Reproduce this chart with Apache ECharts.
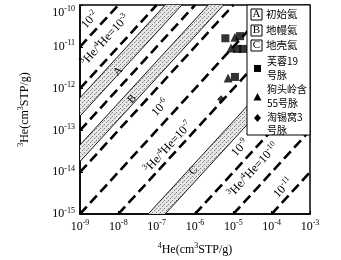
<!DOCTYPE html>
<html><head><meta charset="utf-8">
<script src="https://cdn.jsdelivr.net/npm/echarts@6/dist/echarts.min.js"></script>
<style>html,body{margin:0;padding:0;background:#fff}#c{width:341px;height:260px}</style>
</head><body><div id="c"></div>
<script>
// ---- data ----
const xAxisMin = 1e-9, xAxisMax = 1e-3;
const yAxisMin = 1e-15, yAxisMax = 1e-10;
const ratioLines = [1e-2, 1e-3, 1e-4, 1e-5, 1e-6, 1e-7, 1e-8, 1e-9, 1e-10, 1e-11];
const bandNames = ['A', 'B', 'C'];
const bandUpper = [6.0e-4, 4.5e-5, 1.66e-8];
const bandLower = [2.2e-4, 1.8e-5, 6.0e-9];
const bandLabelPos = [[9.8e-9, 2.6e-12], [2.3e-8, 5.6e-13], [9.0e-7, 1.1e-14]];
const lineLabelText = ['10{s|-2}', '{s|3}He/{s|4}He=10{s|-3}', '10{s|-6}', '{s|3}He/{s|4}He=10{s|-7}', '10{s|-9}', '{s|3}He/{s|4}He=10{s|-10}', '10{s|-11}'];
const lineLabelPos = [[1.82e-9, 4.4e-11], [4.5e-9, 1.45e-11], [1.23e-7, 3.5e-13], [2.0e-7, 4.0e-14], [1.5e-5, 3.8e-14], [3.3e-5, 1.12e-14], [2.0e-4, 4.2e-15]];
const furong19 = [[6.2e-6, 1.6e-11], [1.5e-5, 1.8e-11], [1.26e-5, 8.9e-12], [1.8e-5, 8.9e-12], [1.1e-5, 1.9e-12]];
const goutouling55 = [[1.1e-5, 1.7e-11], [8.7e-6, 9.3e-12], [7.3e-6, 1.8e-12]];
const taoxiwo3 = [[4.8e-6, 5.6e-13]];
const legendBandText = ['初始氦', '地幔氦', '地壳氦'];
const seriesNames = ['芙蓉19号脉', '狗头岭含55号脉', '淘锡窝3号脉'];

// ---- styling helpers ----
const serif = '"Liberation Serif", "Times New Roman", serif';
const cjk = '"Noto Sans CJK SC", sans-serif';
const supRich = { s: { fontSize: 8, verticalAlign: 'top', fontFamily: serif, color: '#000' } };

const pc = document.createElement('canvas');
pc.width = 4; pc.height = 4;
(function () {
  const g = pc.getContext('2d');
  g.fillStyle = '#e6e6e6'; g.fillRect(0, 0, 4, 4);
  g.fillStyle = '#808080'; g.fillRect(0, 0, 1, 1); g.fillRect(2, 2, 1, 1);
  g.fillStyle = '#b4b4b4'; g.fillRect(3, 1, 1, 1);
})();
const bandFill = { image: pc, repeat: 'repeat' };

function lineAngle(api) {
  const p1 = api.coord([1e-6, 1e-12]);
  const p2 = api.coord([1e-5, 1e-11]);
  return Math.atan2(p1[1] - p2[1], p2[0] - p1[0]);
}

const chart = echarts.init(document.getElementById('c'), null, { renderer: 'canvas' });

const series = [];
ratioLines.forEach(function (R) {
  const x1 = Math.max(xAxisMin, yAxisMin / R), x2 = Math.min(xAxisMax, yAxisMax / R);
  series.push({
    type: 'line', silent: true, showSymbol: false, clip: true, z: 2,
    data: [[x1, R * x1], [x2, R * x2]],
    lineStyle: { color: '#000', width: 2.6, type: [10, 5] }
  });
});
series.push({
  type: 'custom', silent: true, z: 3, clip: true,
  data: bandLabelPos,
  renderItem: function (params, api) {
    const i = params.dataIndex;
    const lo = bandLower[i], hi = bandUpper[i];
    const xa = 1e-12, xb = 1;
    const pts = [api.coord([xa, hi * xa]), api.coord([xb, hi * xb]), api.coord([xb, lo * xb]), api.coord([xa, lo * xa])];
    const c = api.coord([api.value(0), api.value(1)]);
    const cs = params.coordSys;
    return {
      type: 'group',
      clipPath: { type: 'rect', shape: { x: cs.x, y: cs.y, width: cs.width, height: cs.height } },
      children: [
        { type: 'polygon', shape: { points: pts }, style: { fill: bandFill, stroke: '#000', lineWidth: 0.9 } },
        { type: 'text', x: c[0], y: c[1], rotation: lineAngle(api),
          style: { text: bandNames[i], fontFamily: serif, fontSize: 11, fill: '#000', align: 'center', verticalAlign: 'middle' } }
      ]
    };
  }
});
series.push({
  type: 'custom', silent: true, z: 4,
  data: lineLabelPos,
  renderItem: function (params, api) {
    const i = params.dataIndex;
    const c = api.coord([api.value(0), api.value(1)]);
    return {
      type: 'text', x: c[0], y: c[1], rotation: lineAngle(api),
      style: { text: lineLabelText[i], rich: supRich, fontFamily: serif, fontSize: 12, lineHeight: 15,
        fill: '#000', align: 'center', verticalAlign: 'middle' }
    };
  }
});
series.push({ type: 'scatter', name: seriesNames[0], data: furong19, symbol: 'rect', symbolSize: 8, itemStyle: { color: '#000' }, z: 5 });
series.push({ type: 'scatter', name: seriesNames[1], data: goutouling55, symbol: 'triangle', symbolSize: 9, itemStyle: { color: '#000' }, z: 5 });
series.push({ type: 'scatter', name: seriesNames[2], data: taoxiwo3, symbol: 'diamond', symbolSize: 8, itemStyle: { color: '#000' }, z: 5 });

function expLabel(v) {
  const e = Math.round(Math.log10(v));
  return '10{s|' + e + '}';
}

const legendX = 247, legendY = 5, legendW = 63, legendH = 130;
const graphics = [
  { type: 'rect', shape: { x: legendX, y: legendY, width: legendW, height: legendH }, style: { fill: '#fff', stroke: '#000', lineWidth: 1 }, z: 100 }
];
const bandRowY = [14.5, 30.5, 45.5];
bandNames.forEach(function (n, i) {
  graphics.push({ type: 'rect', shape: { x: 251, y: bandRowY[i] - 5.5, width: 11, height: 11 }, style: { fill: '#fff', stroke: '#000', lineWidth: 1 }, z: 101 });
  graphics.push({ type: 'text', x: 256.5, y: bandRowY[i], style: { text: n, fontFamily: serif, fontSize: 11, fill: '#000', align: 'center', verticalAlign: 'middle' }, z: 102 });
  graphics.push({ type: 'text', x: 266, y: bandRowY[i], style: { text: legendBandText[i], fontFamily: cjk, fontSize: 10.5, fill: '#000', align: 'left', verticalAlign: 'middle' }, z: 102 });
});
graphics.push({ type: 'rect', shape: { x: 254, y: 65, width: 7, height: 7 }, style: { fill: '#000' }, z: 102 });
graphics.push({ type: 'polygon', shape: { points: [[257.5, 93], [261.5, 100.5], [253.5, 100.5]] }, style: { fill: '#000' }, z: 102 });
graphics.push({ type: 'polygon', shape: { points: [[257.5, 114], [261, 118], [257.5, 122], [254, 118]] }, style: { fill: '#000' }, z: 102 });
const legendLines = [['芙蓉19', 61], ['号脉', 75], ['狗头岭含', 89], ['55号脉', 103], ['淘锡窝3', 117], ['号脉', 130]];
legendLines.forEach(function (l) {
  graphics.push({ type: 'text', x: 267, y: l[1], style: { text: l[0], fontFamily: cjk, fontSize: 10, fill: '#000', align: 'left', verticalAlign: 'middle' }, z: 102 });
});

chart.setOption({
  animation: false,
  backgroundColor: '#fff',
  grid: { left: 80, top: 5, width: 230, height: 209, containLabel: false, outerBoundsMode: 'none', show: true, borderColor: '#000', borderWidth: 1.5, backgroundColor: 'transparent', z: 1 },
  xAxis: {
    type: 'log', logBase: 10, min: xAxisMin, max: xAxisMax,
    axisLine: { lineStyle: { color: '#000', width: 1.5 } },
    axisTick: { inside: true, length: 3, lineStyle: { color: '#000' } },
    minorTick: { show: false }, splitLine: { show: false },
    axisLabel: { formatter: expLabel, rich: supRich, fontFamily: serif, fontSize: 12, lineHeight: 15, color: '#000', margin: 5, alignMaxLabel: 'right' },
    name: '{s|4}He(cm{s|3}STP/g)', nameLocation: 'middle', nameGap: 28,
    nameTextStyle: { fontFamily: serif, fontSize: 12, lineHeight: 15, color: '#000', rich: supRich }
  },
  yAxis: {
    type: 'log', logBase: 10, min: yAxisMin, max: yAxisMax,
    axisLine: { lineStyle: { color: '#000', width: 1.5 } },
    axisTick: { inside: true, length: 3, lineStyle: { color: '#000' } },
    minorTick: { show: false }, splitLine: { show: false },
    axisLabel: { formatter: expLabel, rich: supRich, fontFamily: serif, fontSize: 12, lineHeight: 15, color: '#000', margin: 5, verticalAlignMaxLabel: 'top' },
    name: '{s|3}He(cm{s|3}STP/g)', nameLocation: 'middle', nameGap: 48,
    nameTextStyle: { fontFamily: serif, fontSize: 12, lineHeight: 15, color: '#000', rich: supRich }
  },
  graphic: graphics,
  series: series
});
</script>
</body></html>
